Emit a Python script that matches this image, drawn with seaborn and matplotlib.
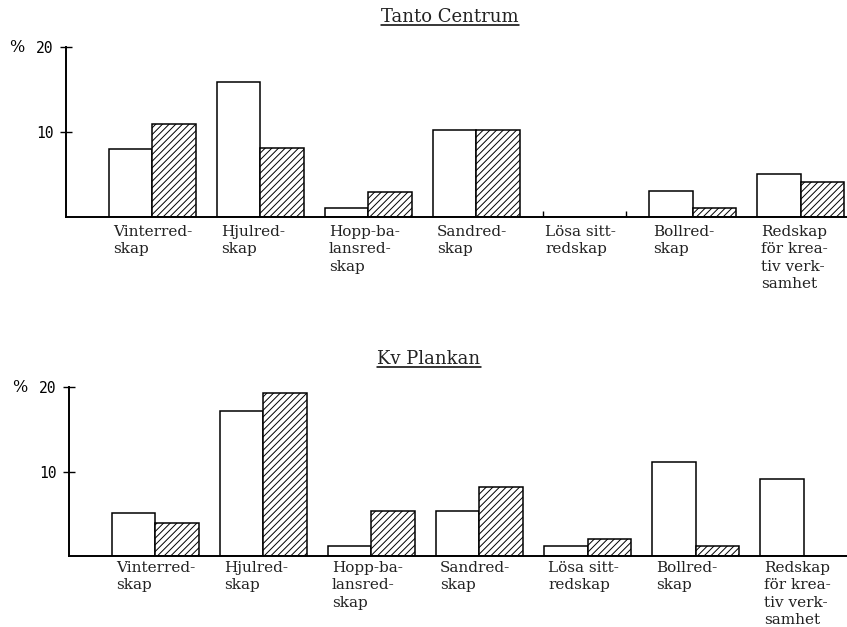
import matplotlib
matplotlib.use("Agg")
import matplotlib.pyplot as plt
import seaborn as sns
import pandas as pd
from matplotlib.lines import Line2D

# ---------------- data ----------------
categories = [
    "Vinterred-\nskap",
    "Hjulred-\nskap",
    "Hopp-ba-\nlansred-\nskap",
    "Sandred-\nskap",
    "Lösa sitt-\nredskap",
    "Bollred-\nskap",
    "Redskap\nför krea-\ntiv verk-\nsamhet",
]
series = ["serie 1", "serie 2"]

tanto_open = [8.0, 15.9, 1.1, 10.2, 0.0, 3.1, 5.1]
tanto_hatched = [10.9, 8.1, 2.9, 10.2, 0.0, 1.1, 4.1]

plankan_open = [5.1, 17.2, 1.2, 5.3, 1.2, 11.1, 9.1]
plankan_hatched = [3.9, 19.3, 5.3, 8.2, 2.0, 1.2, 0.0]

titles = ["Tanto Centrum", "Kv Plankan"]
yticks = [10, 20]
ytick_labels = ["10", "20"]

# ---------------- style ----------------
sns.set_style("white")
plt.rcParams["hatch.linewidth"] = 0.7
plt.rcParams["hatch.color"] = "black"

W, H = 847, 627
fig = plt.figure(figsize=(W / 100, H / 100), dpi=100)
fig.patch.set_facecolor("white")

ax_top = fig.add_axes([66 / W, 1 - 217 / H, 781 / W, 170 / H])
ax_bot = fig.add_axes([69 / W, 1 - 556 / H, 781 / W, 169 / H])


def draw(ax, open_vals, hatched_vals, label_offset):
    df = pd.DataFrame({
        "kategori": categories * 2,
        "serie": [series[0]] * len(categories) + [series[1]] * len(categories),
        "andel": list(open_vals) + list(hatched_vals),
    })
    sns.barplot(data=df, x="kategori", y="andel", hue="serie",
                order=categories, hue_order=series,
                palette=["white", "white"], saturation=1,
                edgecolor="black", linewidth=1.1, width=0.8,
                errorbar=None, legend=False, ax=ax)
    for bar in ax.containers[1]:
        bar.set_hatch("/////")

    # tiny marks for a group with no bars at all
    for idx in range(len(categories)):
        if open_vals[idx] == 0 and hatched_vals[idx] == 0:
            p0 = ax.containers[0][idx]
            p1 = ax.containers[1][idx]
            ax.vlines([p0.get_x() + 0.02, p1.get_x() + p1.get_width() - 0.02],
                      0, 0.7, color="black", lw=1)

    ax.set_xlim(-0.8, 6.43)
    ax.set_ylim(0, 20)
    ax.set_xticks([])
    ax.set_yticks(yticks)
    ax.set_yticklabels(ytick_labels, fontfamily="DejaVu Sans Mono", fontsize=10.5)
    ax.set_xlabel("")
    ax.set_ylabel("")
    ax.tick_params(axis="y", direction="inout", length=8, width=1, pad=5,
                   colors="black", left=True)
    for s in ["top", "right"]:
        ax.spines[s].set_visible(False)
    for s in ["left", "bottom"]:
        ax.spines[s].set_color("black")
        ax.spines[s].set_linewidth(1.4)
    ax.set_facecolor("white")

    # category labels, left-aligned under each group
    for i, lab in enumerate(categories):
        ax.annotate(lab, xy=(i - 0.365, 0), xycoords=("data", "axes fraction"),
                    xytext=(0, label_offset), textcoords="offset pixels",
                    ha="left", va="top", fontfamily="DejaVu Serif",
                    fontsize=11, linespacing=1.3, color="#222222")

    ax.annotate("%", xy=(0, 20), xycoords=("axes fraction", "data"),
                xytext=(-49, 0), textcoords="offset pixels",
                ha="center", va="center", fontfamily="DejaVu Serif",
                fontsize=11.5, color="black")


draw(ax_top, tanto_open, tanto_hatched, -8)
draw(ax_bot, plankan_open, plankan_hatched, -5)

# titles with underline
title_pos = [(450, 17), (429, 359)]
title_objs = []
for t, (px, py) in zip(titles, title_pos):
    txt = fig.text(px / W, 1 - py / H, t, ha="center", va="center",
                   fontfamily="DejaVu Serif", fontsize=13, color="#222222")
    title_objs.append((txt, py))

fig.canvas.draw()
renderer = fig.canvas.get_renderer()
for txt, py in title_objs:
    bb = txt.get_window_extent(renderer)
    y_line = 1 - (py + 8) / H
    fig.add_artist(Line2D([bb.x0 / W, bb.x1 / W], [y_line, y_line],
                          transform=fig.transFigure, color="black", lw=1.1))

fig.savefig("out.png", dpi=100, facecolor="white")
